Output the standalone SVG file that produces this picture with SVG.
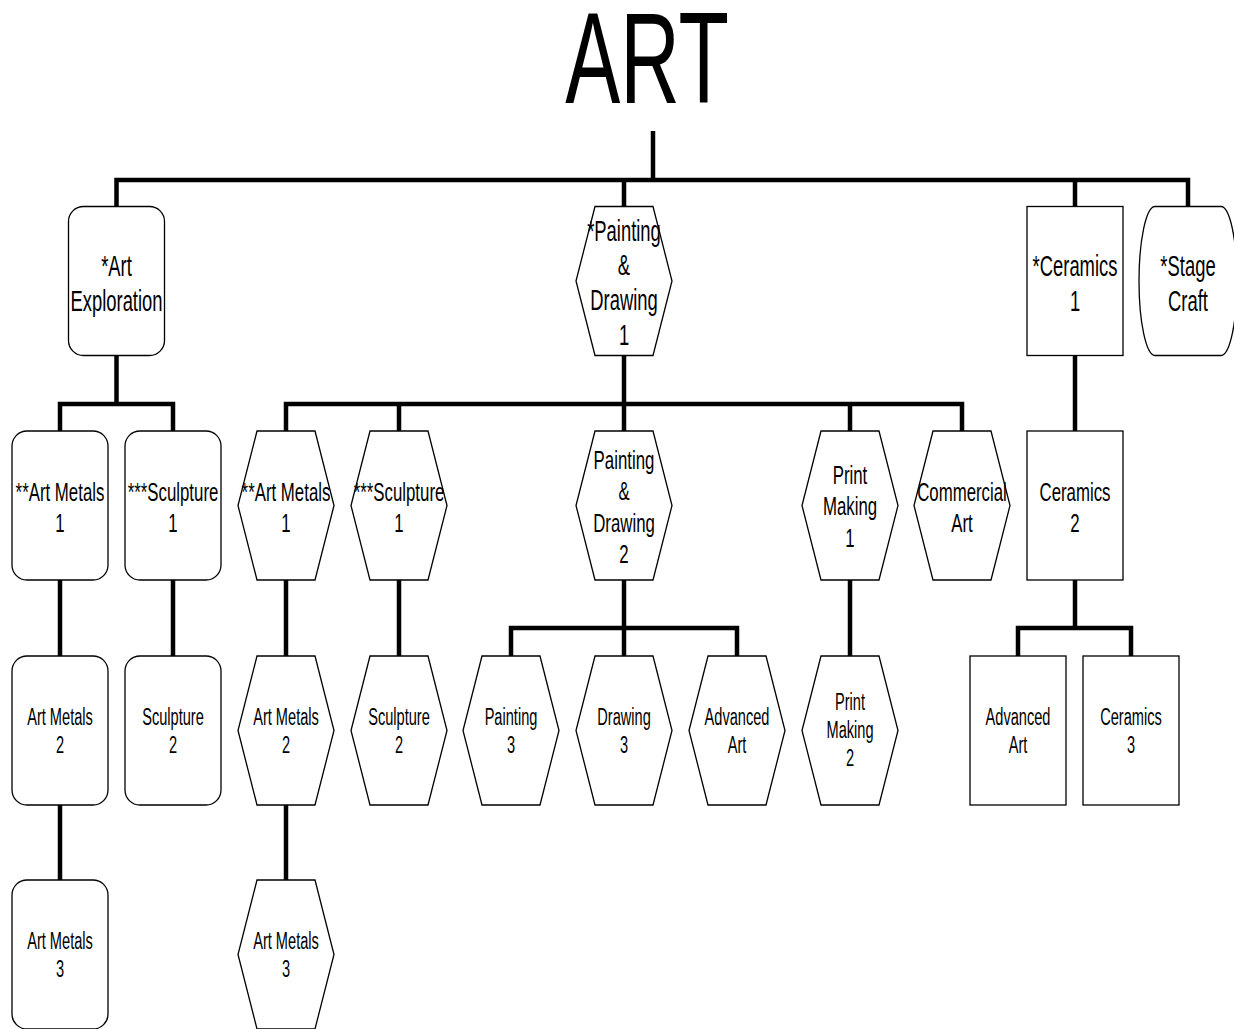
<svg xmlns="http://www.w3.org/2000/svg" xmlns:xlink="http://www.w3.org/1999/xlink" width="1234" height="1029" viewBox="0 0 1234 1029">
<style>
.n{fill:#fff;stroke:#000;stroke-width:1.3}
.c{fill:none;stroke:#000;stroke-width:4.5;stroke-linejoin:miter}
text{font-family:"Liberation Sans",Arial,sans-serif;text-anchor:middle;fill:#000}
.t0{font-size:130px}
.t1{font-size:29px}
.t2{font-size:26.5px}
.t3{font-size:23px}
</style>
<defs>
<rect id="rr" width="96" height="149" rx="15" ry="15"/>
<rect id="sq" width="96" height="149"/>
<polygon id="hex" points="19,0 77,0 96,74.5 77,149 19,149 0,74.5"/>
</defs>
<rect width="1234" height="1029" fill="#fff"/>
<text class="t0" x="0" y="103" transform="translate(647,0) scale(0.635,1)">ART</text>
<g id="connectors">
<path class="c" d="M653,131V180"/>
<path class="c" d="M116.5,206.5V180H1188V206.5"/>
<path class="c" d="M624,180V206.5M1075,180V206.5"/>
<path class="c" d="M116.5,355.5V404"/>
<path class="c" d="M60,431V404H173V431"/>
<path class="c" d="M624,355.5V431"/>
<path class="c" d="M286,431V404H962V431"/>
<path class="c" d="M399,404V431M850,404V431"/>
<path class="c" d="M1075,355.5V431"/>
<path class="c" d="M60,580V656M173,580V656M286,580V656M399,580V656M850,580V656"/>
<path class="c" d="M624,580V656"/>
<path class="c" d="M511,656V628H737V656"/>
<path class="c" d="M1075,580V628"/>
<path class="c" d="M1018,656V628H1131V656"/>
<path class="c" d="M60,805V880M286,805V880"/>
</g>
<g id="n-art-exploration"><use href="#rr" class="n" x="68.5" y="206.5"/><text class="t1" transform="translate(116.5,0) scale(0.635,1)"><tspan x="0" y="276">*Art</tspan><tspan x="0" y="311">Exploration</tspan></text></g>
<g id="n-painting-drawing-1"><use href="#hex" class="n" x="576" y="206.5"/><text class="t1" transform="translate(624,0) scale(0.635,1)"><tspan x="0" y="241">*Painting</tspan><tspan x="0" y="275">&amp;</tspan><tspan x="0" y="310">Drawing</tspan><tspan x="0" y="345">1</tspan></text></g>
<g id="n-ceramics-1"><use href="#sq" class="n" x="1027" y="206.5"/><text class="t1" transform="translate(1075,0) scale(0.635,1)"><tspan x="0" y="276">*Ceramics</tspan><tspan x="0" y="311">1</tspan></text></g>
<g id="n-stage-craft"><path class="n" d="M1155,206.5H1221A16,74.5 0 0 1 1221,355.5H1155A16,74.5 0 0 1 1155,206.5Z"/><text class="t1" transform="translate(1188,0) scale(0.635,1)"><tspan x="0" y="276">*Stage</tspan><tspan x="0" y="311">Craft</tspan></text></g>

<g id="n-art-metals-1a"><use href="#rr" class="n" x="12" y="431"/><text class="t2" transform="translate(60,0) scale(0.635,1)"><tspan x="0" y="501">**Art Metals</tspan><tspan x="0" y="532.5">1</tspan></text></g>
<g id="n-sculpture-1a"><use href="#rr" class="n" x="125" y="431"/><text class="t2" transform="translate(173,0) scale(0.635,1)"><tspan x="0" y="501">***Sculpture</tspan><tspan x="0" y="532.5">1</tspan></text></g>
<g id="n-art-metals-1b"><use href="#hex" class="n" x="238" y="431"/><text class="t2" transform="translate(286,0) scale(0.635,1)"><tspan x="0" y="501">**Art Metals</tspan><tspan x="0" y="532.5">1</tspan></text></g>
<g id="n-sculpture-1b"><use href="#hex" class="n" x="351" y="431"/><text class="t2" transform="translate(399,0) scale(0.635,1)"><tspan x="0" y="501">***Sculpture</tspan><tspan x="0" y="532.5">1</tspan></text></g>
<g id="n-painting-drawing-2"><use href="#hex" class="n" x="576" y="431"/><text class="t2" transform="translate(624,0) scale(0.635,1)"><tspan x="0" y="469">Painting</tspan><tspan x="0" y="500.5">&amp;</tspan><tspan x="0" y="532">Drawing</tspan><tspan x="0" y="563.5">2</tspan></text></g>
<g id="n-print-making-1"><use href="#hex" class="n" x="802" y="431"/><text class="t2" transform="translate(850,0) scale(0.635,1)"><tspan x="0" y="484">Print</tspan><tspan x="0" y="515.5">Making</tspan><tspan x="0" y="547">1</tspan></text></g>
<g id="n-commercial-art"><use href="#hex" class="n" x="914" y="431"/><text class="t2" transform="translate(962,0) scale(0.635,1)"><tspan x="0" y="501">Commercial</tspan><tspan x="0" y="532.5">Art</tspan></text></g>
<g id="n-ceramics-2"><use href="#sq" class="n" x="1027" y="431"/><text class="t2" transform="translate(1075,0) scale(0.635,1)"><tspan x="0" y="501">Ceramics</tspan><tspan x="0" y="532.5">2</tspan></text></g>

<g id="n-art-metals-2a"><use href="#rr" class="n" x="12" y="656"/><text class="t3" transform="translate(60,0) scale(0.635,1)"><tspan x="0" y="725">Art Metals</tspan><tspan x="0" y="753">2</tspan></text></g>
<g id="n-sculpture-2a"><use href="#rr" class="n" x="125" y="656"/><text class="t3" transform="translate(173,0) scale(0.635,1)"><tspan x="0" y="725">Sculpture</tspan><tspan x="0" y="753">2</tspan></text></g>
<g id="n-art-metals-2b"><use href="#hex" class="n" x="238" y="656"/><text class="t3" transform="translate(286,0) scale(0.635,1)"><tspan x="0" y="725">Art Metals</tspan><tspan x="0" y="753">2</tspan></text></g>
<g id="n-sculpture-2b"><use href="#hex" class="n" x="351" y="656"/><text class="t3" transform="translate(399,0) scale(0.635,1)"><tspan x="0" y="725">Sculpture</tspan><tspan x="0" y="753">2</tspan></text></g>
<g id="n-painting-3"><use href="#hex" class="n" x="463" y="656"/><text class="t3" transform="translate(511,0) scale(0.635,1)"><tspan x="0" y="725">Painting</tspan><tspan x="0" y="753">3</tspan></text></g>
<g id="n-drawing-3"><use href="#hex" class="n" x="576" y="656"/><text class="t3" transform="translate(624,0) scale(0.635,1)"><tspan x="0" y="725">Drawing</tspan><tspan x="0" y="753">3</tspan></text></g>
<g id="n-advanced-art-a"><use href="#hex" class="n" x="689" y="656"/><text class="t3" transform="translate(737,0) scale(0.635,1)"><tspan x="0" y="725">Advanced</tspan><tspan x="0" y="753">Art</tspan></text></g>
<g id="n-print-making-2"><use href="#hex" class="n" x="802" y="656"/><text class="t3" transform="translate(850,0) scale(0.635,1)"><tspan x="0" y="710.5">Print</tspan><tspan x="0" y="738.5">Making</tspan><tspan x="0" y="766.5">2</tspan></text></g>
<g id="n-advanced-art-b"><use href="#sq" class="n" x="970" y="656"/><text class="t3" transform="translate(1018,0) scale(0.635,1)"><tspan x="0" y="725">Advanced</tspan><tspan x="0" y="753">Art</tspan></text></g>
<g id="n-ceramics-3"><use href="#sq" class="n" x="1083" y="656"/><text class="t3" transform="translate(1131,0) scale(0.635,1)"><tspan x="0" y="725">Ceramics</tspan><tspan x="0" y="753">3</tspan></text></g>

<g id="n-art-metals-3a"><use href="#rr" class="n" x="12" y="880"/><text class="t3" transform="translate(60,0) scale(0.635,1)"><tspan x="0" y="949.5">Art Metals</tspan><tspan x="0" y="977.5">3</tspan></text></g>
<g id="n-art-metals-3b"><use href="#hex" class="n" x="238" y="880"/><text class="t3" transform="translate(286,0) scale(0.635,1)"><tspan x="0" y="949.5">Art Metals</tspan><tspan x="0" y="977.5">3</tspan></text></g>
</svg>
